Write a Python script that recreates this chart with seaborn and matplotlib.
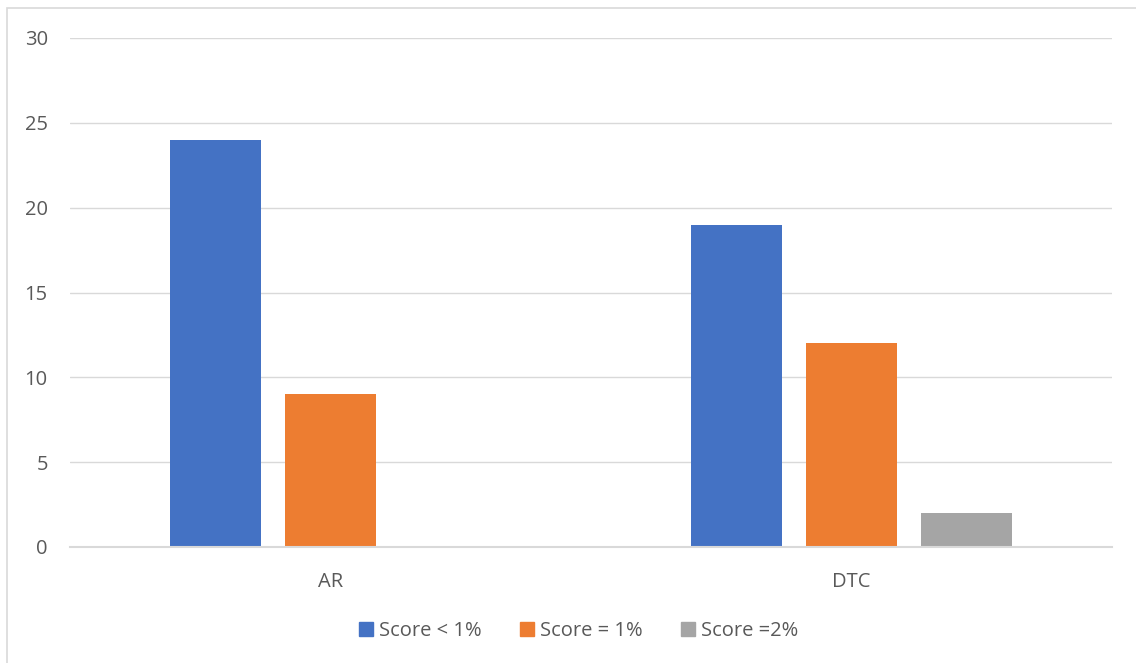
import matplotlib
matplotlib.use("Agg")
import matplotlib.pyplot as plt
import matplotlib.patches as mpatches
import pandas as pd
import seaborn as sns

categories = ["AR", "DTC"]
series = ["Score < 1%", "Score = 1%", "Score =2%"]
score_lt1 = [24, 19]
score_eq1 = [9, 12]
score_eq2 = [0, 2]
colors = ["#4472C4", "#ED7D31", "#A5A5A5"]

data = pd.DataFrame({
    "Category": categories * 3,
    "Series": [series[0]] * 2 + [series[1]] * 2 + [series[2]] * 2,
    "Value": score_lt1 + score_eq1 + score_eq2,
})

sns.set_theme(style="white")
plt.rcParams["font.family"] = ["Open Sans", "DejaVu Sans"]

fig = plt.figure(figsize=(11.36, 6.63), dpi=100)
ax = fig.add_axes([70 / 1136, 1 - 547 / 663, 1042 / 1136, 509 / 663])

sns.barplot(data=data, x="Category", y="Value", hue="Series",
            palette=colors, saturation=1, width=0.662, gap=0.209, linewidth=0,
            legend=False, ax=ax)

ax.set_ylim(0, 30)
ax.set_xlim(-0.5, 1.5)
ax.set_yticks(range(0, 31, 5))
ax.yaxis.grid(True, color="#D9D9D9", linewidth=1)
ax.set_axisbelow(True)
for side in ["top", "right", "left"]:
    ax.spines[side].set_visible(False)
ax.spines["bottom"].set_color("#D9D9D9")
ax.spines["bottom"].set_linewidth(1.5)
ax.set_xlabel("")
ax.set_ylabel("")
ax.tick_params(axis="both", length=0, labelsize=14.5, labelcolor="#595959")
ax.tick_params(axis="y", pad=16)
ax.tick_params(axis="x", pad=18)

handles = [mpatches.Patch(color=c, label=s) for c, s in zip(colors, series)]
fig.legend(handles=handles, loc="center", bbox_to_anchor=(0.509, 1 - 631 / 663),
           ncol=3, frameon=False, fontsize=14.5, handlelength=0.7, handleheight=0.7,
           handletextpad=0.3, columnspacing=1.9, labelcolor="#595959")

border = mpatches.Rectangle((7 / 1136, -0.05), 1.2, 1 - 8 / 663 + 0.05,
                            transform=fig.transFigure, fill=False,
                            edgecolor="#D9D9D9", linewidth=1.2)
fig.patches.append(border)

fig.savefig("out.png", dpi=100)
